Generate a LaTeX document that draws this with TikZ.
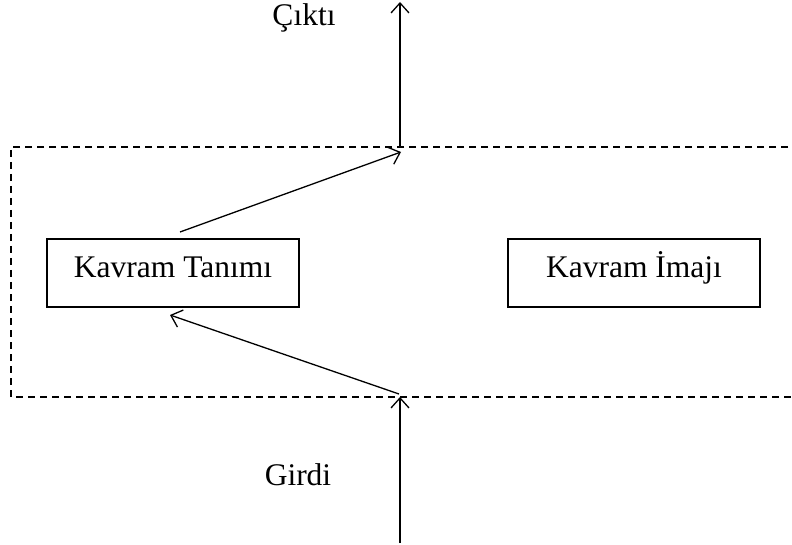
\documentclass[tikz,border=0pt]{standalone}
\usepackage{fontspec}
\setmainfont{Liberation Serif}
\usetikzlibrary{arrows.meta}
\begin{document}
\begin{tikzpicture}[x=1pt,y=-1pt,
  conceptbox/.style={draw,line width=1.3pt,inner sep=0pt,minimum width=252pt,
    minimum height=68pt,text height=38pt,text depth=30pt,align=center,
    font=\fontsize{31.5}{36}\selectfont},
  label/.style={inner sep=0pt,anchor=base,font=\fontsize{31.5}{36}\selectfont},
  flow/.style={line width=1.3pt,-{Straight Barb[length=10pt,width=18pt,line width=1.3pt]}},
  frame/.style={line width=1.1pt,dash pattern=on 7pt off 5pt}]
\useasboundingbox (0,0) rectangle (792,545);
% dashed frame, its right side runs past the page edge
\draw[frame] (800,147) -- (11,147) -- (11,397) -- (800,397);
% the two concept boxes
\node[conceptbox] (def) at (173,273) {Kavram Tanımı};
\node[conceptbox] (img) at (634,273) {Kavram İmajı};
% labels
\node[label] (out) at (304,26) {Çıktı};
\node[label] (in) at (298,485) {Girdi};
% connector ends
\coordinate (topin) at (400,147);
\coordinate (topout) at (400,2);
\coordinate (botin) at (400,397);
\coordinate (botout) at (400,543);
\coordinate (defout) at (180,232);
\coordinate (defin) at (170,315);
\coordinate (mergehead) at (401,152);
\coordinate (splitstart) at (399,394);
% arrows
\draw[flow] (topin) -- (topout);
\draw[flow] (defout) -- (mergehead);
\draw[flow] (splitstart) -- (defin);
\draw[flow] (botout) -- (botin);
\end{tikzpicture}
\end{document}
